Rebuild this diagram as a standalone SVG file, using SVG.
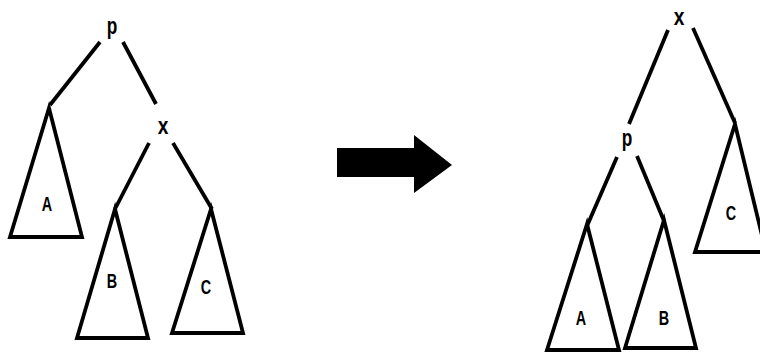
<svg xmlns="http://www.w3.org/2000/svg" width="760" height="352" viewBox="0 0 760 352">
<style>
.tri{fill:none;stroke:#000;stroke-width:3.8;stroke-linejoin:miter}
.edge{stroke:#000;stroke-width:3.8;stroke-linecap:butt;fill:none}
.lbl{font-family:"Liberation Sans",Arial,sans-serif;font-weight:bold;fill:#000;text-anchor:middle}
.cap{font-size:20px}
.low{font-size:24px}
</style>
<rect width="760" height="352" fill="#fff"/>
<g id="connectors">
  <line class="edge" x1="100" y1="42" x2="50" y2="105"/>
  <line class="edge" x1="123" y1="42" x2="156" y2="104"/>
  <line class="edge" x1="149" y1="143" x2="115" y2="209"/>
  <line class="edge" x1="173" y1="143" x2="212" y2="209"/>
  <line class="edge" x1="668" y1="30" x2="629" y2="124"/>
  <line class="edge" x1="693" y1="28" x2="735" y2="123"/>
  <line class="edge" x1="617" y1="157" x2="587" y2="226"/>
  <line class="edge" x1="637" y1="156" x2="664" y2="221"/>
</g>
<g id="left-p"><text class="lbl low" transform="translate(112,34) scale(0.72,1)">p</text></g>
<g id="left-x"><text class="lbl low" transform="translate(163,134) scale(0.8,1)">x</text></g>
<g id="left-A"><polygon class="tri" points="49,108 10,237 82,237"/><text class="lbl cap" transform="translate(47,211) scale(0.72,1)">A</text></g>
<g id="left-B"><polygon class="tri" points="115,209 77,338 148,338"/><text class="lbl cap" transform="translate(112,288) scale(0.72,1)">B</text></g>
<g id="left-C"><polygon class="tri" points="211,209 172,333 243,333"/><text class="lbl cap" transform="translate(206,294) scale(0.72,1)">C</text></g>
<g id="arrow"><polygon points="337,148 414,148 414,135 452,165 414,193 414,177 337,177" fill="#000"/></g>
<g id="right-x"><text class="lbl low" transform="translate(679,25) scale(0.8,1)">x</text></g>
<g id="right-p"><text class="lbl low" transform="translate(627,146) scale(0.72,1)">p</text></g>
<g id="right-A"><polygon class="tri" points="587,224 547,350 619,350"/><text class="lbl cap" transform="translate(581,325) scale(0.72,1)">A</text></g>
<g id="right-B"><polygon class="tri" points="664,220 625,348 696,348"/><text class="lbl cap" transform="translate(664,325) scale(0.72,1)">B</text></g>
<g id="right-C"><polygon class="tri" points="735,124 695,252 766,252"/><text class="lbl cap" transform="translate(731,220) scale(0.72,1)">C</text></g>
</svg>
